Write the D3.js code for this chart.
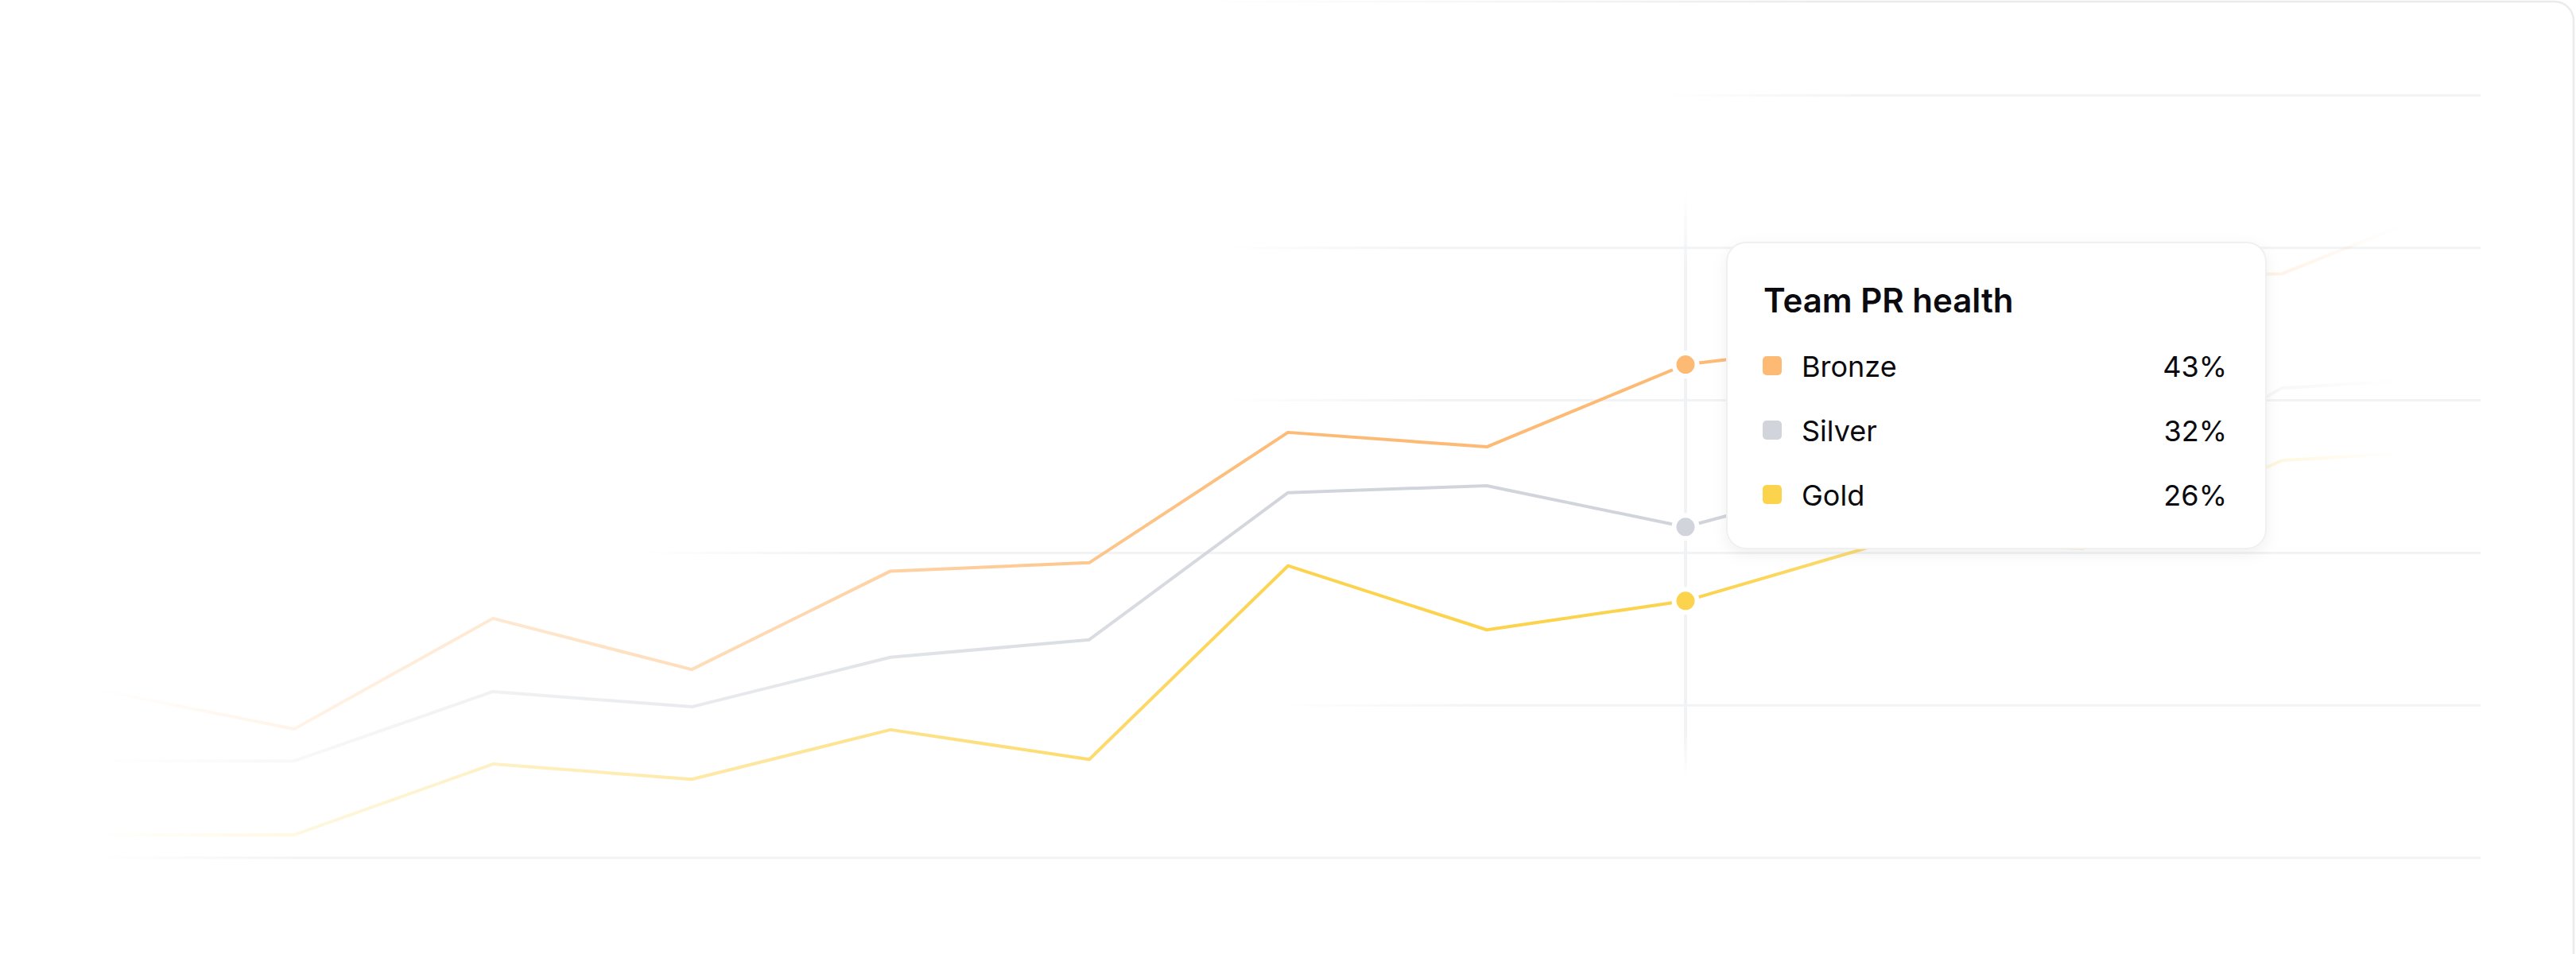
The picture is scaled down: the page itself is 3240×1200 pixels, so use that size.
<!DOCTYPE html>
<html>
<head>
<meta charset="utf-8">
<script src="https://cdn.jsdelivr.net/npm/d3@7"></script>
<style>
  html, body { margin: 0; padding: 0; background: #fff; }
  svg { display: block; font-family: Inter, 'Noto Sans', sans-serif; }
</style>
</head>
<body>
<div id="chart"></div>
<script>
/* global d3 */

// data (share of PRs, %)
const weeks = [ 'W1', 'W2', 'W3', 'W4', 'W5', 'W6', 'W7', 'W8', 'W9', 'W10', 'W11', 'W12', 'W13' ]
const bronze = [ 22.1, 16.9, 31.4, 24.7, 37.6, 38.7, 55.8, 53.9, 64.7, 67.8, 76.4, 76.6, 87.0 ]
const silver = [ 12.7, 12.7, 21.8, 19.8, 26.3, 28.6, 47.9, 48.8, 43.4, 50.4, 46.8, 61.6, 63.2 ]
const gold = [ 3.0, 3.0, 12.3, 10.3, 16.8, 12.9, 38.3, 29.9, 33.7, 41.3, 40.6, 52.1, 53.7 ]
const seriesNames = [ 'Bronze', 'Silver', 'Gold' ]
const yTicks = [ 0, 20, 40, 60, 80, 100 ]

const tooltipTitle = 'Team PR health'
const tooltipValues = [ '43%', '32%', '26%' ]
const activeWeek = 'W9'

// styling
const seriesColors = [ '#FDBA74', '#D1D5DB', '#FCD34D' ]
const gridFadeStart = [ 120, 1605, 799, 1535, 1535, 2083 ]
const width = 3240
const height = 1200

const svg = d3.select('#chart').append('svg').attr('width', width).attr('height', height)
const defs = svg.append('defs')

const x = d3.scalePoint().domain(weeks).range([ 120, 3120 ])
const y = d3.scaleLinear().domain([ 0, 100 ]).range([ 1079, 120 ])

// outer card border, fading in from the left
const cardGrad = defs.append('linearGradient').attr('id', 'card-grad')
  .attr('gradientUnits', 'userSpaceOnUse').attr('x1', 1500).attr('x2', 2300).attr('y1', 0).attr('y2', 0)
cardGrad.append('stop').attr('offset', 0).attr('stop-color', '#ebebeb').attr('stop-opacity', 0)
cardGrad.append('stop').attr('offset', 1).attr('stop-color', '#ebebeb').attr('stop-opacity', 1)
svg.append('path')
  .attr('d', 'M1500,2 H3213 A24,24 0 0 1 3237,26 V1200')
  .attr('fill', 'none')
  .attr('stroke', 'url(#card-grad)')
  .attr('stroke-width', 2.5)

// gridlines
const gridGroup = svg.append('g').attr('class', 'grid')
yTicks.forEach((t, i) => {
  const start = gridFadeStart[i]
  const g = defs.append('linearGradient').attr('id', 'grid-grad-' + i)
    .attr('gradientUnits', 'userSpaceOnUse').attr('x1', start).attr('x2', start + 260).attr('y1', 0).attr('y2', 0)
  g.append('stop').attr('offset', 0).attr('stop-color', '#f2f3f5').attr('stop-opacity', 0)
  g.append('stop').attr('offset', 1).attr('stop-color', '#f2f3f5').attr('stop-opacity', 1)
  gridGroup.append('line')
    .attr('x1', start).attr('x2', x.range()[1])
    .attr('y1', y(t)).attr('y2', y(t))
    .attr('stroke', `url(#grid-grad-${i})`)
    .attr('stroke-width', 3)
})

// crosshair on the hovered week
const crossGrad = defs.append('linearGradient').attr('id', 'cross-grad')
  .attr('gradientUnits', 'userSpaceOnUse').attr('x1', 0).attr('x2', 0).attr('y1', 240).attr('y2', 975)
crossGrad.append('stop').attr('offset', 0).attr('stop-color', '#f1f2f4').attr('stop-opacity', 0)
crossGrad.append('stop').attr('offset', 0.14).attr('stop-color', '#f1f2f4').attr('stop-opacity', 1)
crossGrad.append('stop').attr('offset', 0.92).attr('stop-color', '#f1f2f4').attr('stop-opacity', 1)
crossGrad.append('stop').attr('offset', 1).attr('stop-color', '#f1f2f4').attr('stop-opacity', 0)
svg.append('line')
  .attr('x1', x(activeWeek)).attr('x2', x(activeWeek))
  .attr('y1', 240).attr('y2', 975)
  .attr('stroke', 'url(#cross-grad)')
  .attr('stroke-width', 4)

// lines fade in from the left and out to the right
const fadeGrad = defs.append('linearGradient').attr('id', 'fade-grad')
  .attr('gradientUnits', 'userSpaceOnUse').attr('x1', 0).attr('x2', width).attr('y1', 0).attr('y2', 0)
const fadeStops = [ [ 120, 0 ], [ 1650, 1 ], [ 2150, 1 ], [ 3020, 0 ] ]
fadeStops.forEach(([ px, o ]) => {
  fadeGrad.append('stop').attr('offset', px / width).attr('stop-color', '#fff').attr('stop-opacity', o)
})
defs.append('mask').attr('id', 'fade-mask').attr('maskUnits', 'userSpaceOnUse')
  .attr('x', 0).attr('y', 0).attr('width', width).attr('height', height)
  .append('rect').attr('width', width).attr('height', height).attr('fill', 'url(#fade-grad)')

const series = [ bronze, silver, gold ]
const line = d3.line().x((d, i) => x(weeks[i])).y((d) => y(d))

svg.append('g')
  .attr('mask', 'url(#fade-mask)')
  .selectAll('path')
  .data(series)
  .enter()
  .append('path')
  .attr('d', line)
  .attr('fill', 'none')
  .attr('stroke', (d, i) => seriesColors[i])
  .attr('stroke-width', 4)
  .attr('stroke-linejoin', 'round')

// dots on the hovered week
const active = weeks.indexOf(activeWeek)
svg.append('g')
  .selectAll('circle')
  .data(series)
  .enter()
  .append('circle')
  .attr('cx', x(activeWeek))
  .attr('cy', (d) => y(d[active]))
  .attr('r', 14.5)
  .attr('fill', (d, i) => seriesColors[i])
  .attr('stroke', '#fff')
  .attr('stroke-width', 6)

// tooltip card
const shadow = defs.append('filter').attr('id', 'tip-shadow')
  .attr('x', '-10%').attr('y', '-10%').attr('width', '120%').attr('height', '130%')
shadow.append('feDropShadow').attr('dx', 0).attr('dy', 6).attr('stdDeviation', 9)
  .attr('flood-color', '#000').attr('flood-opacity', 0.06)

const tip = svg.append('g').attr('transform', 'translate(2172,305)')
tip.append('rect')
  .attr('width', 678).attr('height', 385).attr('rx', 24)
  .attr('fill', '#fff')
  .attr('stroke', '#f0f0f0')
  .attr('stroke-width', 2)
  .attr('filter', 'url(#tip-shadow)')

tip.append('text')
  .attr('x', 46).attr('y', 88)
  .attr('font-size', 42).attr('font-weight', 600)
  .attr('fill', '#0a0a0f')
  .text(tooltipTitle)

const rows = tip.selectAll('g.row')
  .data(seriesNames)
  .enter()
  .append('g')
  .attr('class', 'row')
  .attr('transform', (d, i) => `translate(0, ${155 + i * 81})`)

rows.append('rect')
  .attr('x', 45).attr('y', -12)
  .attr('width', 24).attr('height', 24).attr('rx', 5)
  .attr('fill', (d, i) => seriesColors[i])

rows.append('text')
  .attr('x', 94).attr('y', 14)
  .attr('font-size', 36)
  .attr('fill', '#0a0a0f')
  .text((d) => d)

rows.append('text')
  .attr('x', 629).attr('y', 14)
  .attr('text-anchor', 'end')
  .attr('font-size', 36)
  .attr('fill', '#0a0a0f')
  .text((d, i) => tooltipValues[i])
</script>
</body>
</html>
